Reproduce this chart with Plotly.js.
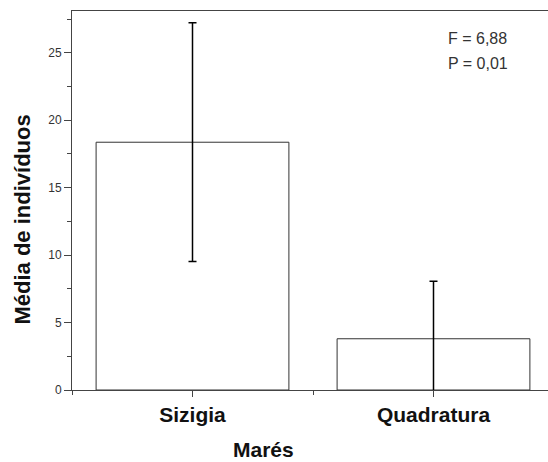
<!DOCTYPE html>
<html>
<head>
<meta charset="utf-8">
<script src="https://cdn.plot.ly/plotly-3.0.1.min.js"></script>
<style>
html,body{margin:0;padding:0;overflow:hidden;background:#fff;}
#chart{width:560px;height:462px;}
</style>
</head>
<body>
<div id="chart"></div>
<script>
const categories = ["Sizigia", "Quadratura"];
const means = [18.37, 3.8];
const errors = [8.85, 4.27];
const statLines = ["F = 6,88", "P = 0,01"];
const xTitle = "Marés";
const yTitle = "Média de indivíduos";

const positions = categories.map((c, i) => i);

const trace = {
  type: "bar",
  x: positions,
  y: means,
  width: 0.8,
  marker: {color: "#ffffff", line: {color: "#333333", width: 1}},
  error_y: {type: "data", array: errors, visible: true, color: "#000000", thickness: 1.5, width: 4},
  hoverinfo: "none",
  showlegend: false
};

const axisLine = "#444444";
const layout = {
  width: 560,
  height: 462,
  margin: {l: 72, r: 6, t: 11, b: 72},
  paper_bgcolor: "#ffffff",
  plot_bgcolor: "#ffffff",
  font: {family: "Liberation Sans, Arial, sans-serif"},
  xaxis: {
    range: [-0.5, 1.5],
    tickmode: "array",
    tickvals: positions,
    ticktext: categories,
    ticks: "outside",
    ticklen: 6,
    tickcolor: axisLine,
    showline: true,
    linecolor: axisLine,
    linewidth: 1,
    mirror: true,
    showgrid: false,
    zeroline: false,
    tickfont: {size: 21, color: "#111111", family: "Liberation Sans, Arial, sans-serif", weight: "bold"},
    minor: {tick0: -0.5, dtick: 1, ticks: "outside", ticklen: 4, tickcolor: axisLine}
  },
  xaxis2: {
    overlaying: "x",
    anchor: "y",
    side: "top",
    range: [-0.5, 1.5],
    tickmode: "array",
    tickvals: [0, 0.5, 1],
    ticks: "inside",
    ticklen: 4,
    tickcolor: axisLine,
    showticklabels: false,
    showgrid: false,
    zeroline: false,
    showline: false
  },
  yaxis: {
    range: [0, 28.1],
    tick0: 0,
    dtick: 5,
    ticks: "outside",
    ticklen: 7,
    tickcolor: axisLine,
    showline: true,
    linecolor: axisLine,
    linewidth: 1,
    mirror: true,
    showgrid: false,
    zeroline: false,
    tickfont: {size: 12, color: "#333333"},
    minor: {dtick: 2.5, ticks: "outside", ticklen: 4, tickcolor: axisLine}
  },
  annotations: [
    {text: yTitle, xref: "paper", yref: "paper", x: -0.1027, y: 0.451, xanchor: "center", yanchor: "middle",
     textangle: -90, showarrow: false, font: {size: 22, color: "#111111", weight: "bold"}},
    {text: xTitle, xref: "paper", yref: "paper", x: 0.398, y: -0.156, xanchor: "center", yanchor: "middle",
     showarrow: false, font: {size: 21, color: "#111111", weight: "bold"}},
    {text: statLines[0], xref: "paper", yref: "paper", x: (446 - 72) / 482, y: (390 - 38) / 379, xanchor: "left", yanchor: "middle",
     showarrow: false, font: {size: 16, color: "#333333"}},
    {text: statLines[1], xref: "paper", yref: "paper", x: (446 - 72) / 482, y: (390 - 64) / 379, xanchor: "left", yanchor: "middle",
     showarrow: false, font: {size: 16, color: "#333333"}}
  ]
};

Plotly.newPlot("chart", [trace], layout, {displayModeBar: false, staticPlot: true});
</script>
</body>
</html>
